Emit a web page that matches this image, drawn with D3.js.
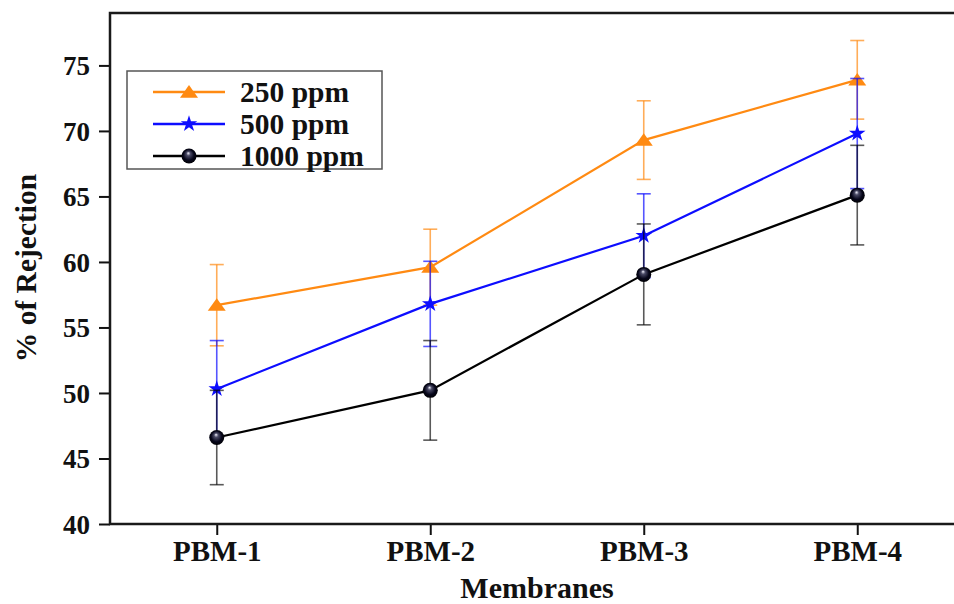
<!DOCTYPE html>
<html>
<head>
<meta charset="utf-8">
<script src="https://cdn.jsdelivr.net/npm/d3@7"></script>
<style>
  body { margin: 0; background: #fff; overflow: hidden; }
  svg { display: block; }
  text { font-family: "Liberation Serif", "Times New Roman", serif; font-weight: bold; fill: #111; }
</style>
</head>
<body>
<div id="chart"></div>
<script>
// data
const membranes = ['PBM-1', 'PBM-2', 'PBM-3', 'PBM-4'];
const yTicks = [40, 45, 50, 55, 60, 65, 70, 75];
const ppm250 = [56.7, 59.6, 69.3, 73.9];
const err250 = [3.1, 2.9, 3.0, 3.0];
const ppm500 = [50.3, 56.8, 62.0, 69.8];
const err500 = [3.7, 3.25, 3.2, 4.2];
const ppm1000 = [46.6, 50.2, 59.05, 65.1];
const err1000 = [3.6, 3.8, 3.85, 3.8];

const series = [
  { name: '250 ppm', values: ppm250, errors: err250, color: '#ff8a12', marker: 'triangle' },
  { name: '500 ppm', values: ppm500, errors: err500, color: '#0d0dff', marker: 'star' },
  { name: '1000 ppm', values: ppm1000, errors: err1000, color: '#000000', marker: 'ball' }
];

// svg領域
const svgWidth = 954;
const svgHeight = 604;
const svg = d3.select('#chart')
  .append('svg')
  .attr('width', svgWidth)
  .attr('height', svgHeight);

// plot area (right edge is outside the picture)
const plot = { left: 110, right: 964, top: 13, bottom: 524 };

const x = d3.scalePoint()
  .domain(membranes)
  .range([plot.left, plot.right])
  .padding(0.5);

const y = d3.scaleLinear()
  .domain([40, 79])
  .range([plot.bottom, plot.top]);

// gradient for ball marker
const defs = svg.append('defs');
const grad = defs.append('radialGradient')
  .attr('id', 'ball')
  .attr('cx', '50%').attr('cy', '50%').attr('r', '55%')
  .attr('fx', '45%').attr('fy', '30%');
grad.append('stop').attr('offset', '0%').attr('stop-color', '#f4f4ff');
grad.append('stop').attr('offset', '25%').attr('stop-color', '#4a4a66');
grad.append('stop').attr('offset', '65%').attr('stop-color', '#06061a');
grad.append('stop').attr('offset', '100%').attr('stop-color', '#000');

// flattened triangle
const flatTriangle = {
  draw(context, size) {
    const w = Math.sqrt(size) * 1.5, h = Math.sqrt(size) * 1.05;
    context.moveTo(0, -h * 0.55);
    context.lineTo(w / 2, h * 0.45);
    context.lineTo(-w / 2, h * 0.45);
    context.closePath();
  }
};

function drawMarker(g, kind, color, cx, cy) {
  if (kind === 'triangle') {
    g.append('path')
      .attr('d', d3.symbol(flatTriangle, 144)())
      .attr('transform', `translate(${cx},${cy})`)
      .attr('fill', color);
  } else if (kind === 'star') {
    g.append('path')
      .attr('d', d3.symbol(d3.symbolStar, 85)())
      .attr('transform', `translate(${cx},${cy})`)
      .attr('fill', color);
  } else {
    g.append('circle')
      .attr('cx', cx)
      .attr('cy', cy)
      .attr('r', 7.5)
      .attr('fill', 'url(#ball)');
  }
}

// axes
const yAxis = d3.axisLeft(y)
  .tickValues(yTicks)
  .tickSize(11)
  .tickPadding(8)
  .tickFormat(d3.format('d'));

const xAxis = d3.axisBottom(x)
  .tickSize(11)
  .tickPadding(8);

const gy = svg.append('g')
  .attr('transform', `translate(${plot.left},0)`)
  .call(yAxis);
gy.select('.domain').remove();
gy.selectAll('.tick line').attr('stroke', '#111').attr('stroke-width', 2);
gy.selectAll('.tick text')
  .attr('font-size', 27)
  .attr('dy', '0.34em')
  .attr('x', -20)
  .style('font-family', '"Liberation Serif", serif')
  .style('font-weight', 'bold');

const gx = svg.append('g')
  .attr('transform', `translate(0,${plot.bottom})`)
  .call(xAxis);
gx.select('.domain').remove();
gx.selectAll('.tick line').attr('stroke', '#111').attr('stroke-width', 2);
gx.selectAll('.tick text')
  .attr('font-size', 29)
  .attr('y', 37)
  .attr('dy', 0)
  .style('font-family', '"Liberation Serif", serif')
  .style('font-weight', 'bold');

// frame: left, top, bottom (the right side falls outside the picture)
const frame = svg.append('path')
  .attr('d', `M${svgWidth},${plot.top}H${plot.left}V${plot.bottom}H${svgWidth}`)
  .attr('fill', 'none')
  .attr('stroke', '#1a1a1a')
  .attr('stroke-width', 2.5);

// series: error bars, line, markers
const line = d3.line()
  .x((d, i) => x(membranes[i]))
  .y(d => y(d));

series.forEach(s => {
  const g = svg.append('g');
  const eb = g.append('g')
    .attr('stroke', s.color)
    .attr('stroke-opacity', s.marker === 'ball' ? 0.65 : 0.7)
    .attr('stroke-width', 1.6);
  s.values.forEach((v, i) => {
    const cx = x(membranes[i]);
    const hi = y(v + s.errors[i]);
    const lo = y(v - s.errors[i]);
    eb.append('line').attr('x1', cx).attr('x2', cx).attr('y1', hi).attr('y2', lo);
    eb.append('line').attr('x1', cx - 7).attr('x2', cx + 7).attr('y1', hi).attr('y2', hi);
    eb.append('line').attr('x1', cx - 7).attr('x2', cx + 7).attr('y1', lo).attr('y2', lo);
  });
  g.append('path')
    .datum(s.values)
    .attr('d', line)
    .attr('fill', 'none')
    .attr('stroke', s.color)
    .attr('stroke-width', 2.2);
  s.values.forEach((v, i) => drawMarker(g, s.marker, s.color, x(membranes[i]), y(v)));
});

// legend
const legend = svg.append('g');
legend.append('rect')
  .attr('x', 127)
  .attr('y', 71)
  .attr('width', 255)
  .attr('height', 98)
  .attr('fill', '#fff')
  .attr('stroke', '#555')
  .attr('stroke-width', 1.5);
series.forEach((s, i) => {
  const ly = 92 + i * 32;
  legend.append('line')
    .attr('x1', 153).attr('x2', 225)
    .attr('y1', ly).attr('y2', ly)
    .attr('stroke', s.color)
    .attr('stroke-width', 2.5);
  drawMarker(legend, s.marker, s.color, 189, ly);
  legend.append('text')
    .attr('x', 240)
    .attr('y', ly)
    .attr('dy', '0.35em')
    .attr('font-size', 29.5)
    .text(s.name);
});

// axis titles
svg.append('text')
  .attr('x', (plot.left + plot.right) / 2)
  .attr('y', 598)
  .attr('text-anchor', 'middle')
  .attr('font-size', 30)
  .text('Membranes');

svg.append('text')
  .attr('transform', 'translate(36,268) rotate(-90)')
  .attr('text-anchor', 'middle')
  .attr('font-size', 29.5)
  .text('% of Rejection');
</script>
</body>
</html>
